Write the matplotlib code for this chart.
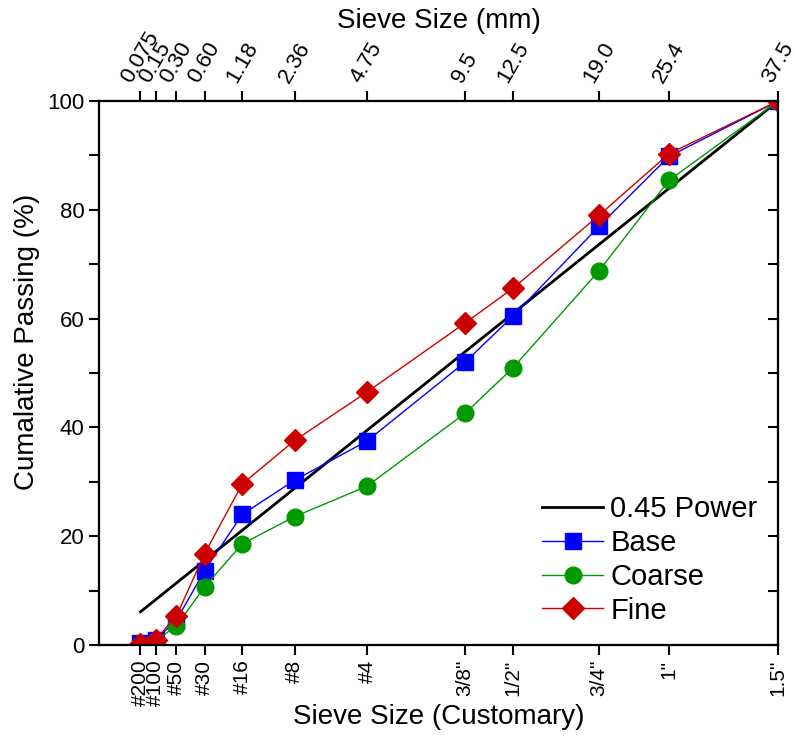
import numpy as np
import matplotlib.pyplot as plt
from matplotlib.ticker import MultipleLocator

plt.rcParams['font.family'] = ['Liberation Sans', 'DejaVu Sans']

# sieve openings (mm) and customary designations
sieve_mm = [0.075, 0.15, 0.30, 0.60, 1.18, 2.36, 4.75, 9.5, 12.5, 19.0, 25.4, 37.5]
sieve_mm_labels = ['0.075', '0.15', '0.30', '0.60', '1.18', '2.36', '4.75',
                   '9.5', '12.5', '19.0', '25.4', '37.5']
sieve_us_labels = ['#200', '#100', '#50', '#30', '#16', '#8', '#4',
                   '3/8"', '1/2"', '3/4"', '1"', '1.5"']

# cumulative passing (%)
base = [0.3, 1.0, 4.5, 13.7, 24.0, 30.3, 37.5, 52.0, 60.5, 77.0, 89.8, 100.0]
coarse = [0.0, 0.8, 3.5, 10.7, 18.6, 23.6, 29.2, 42.6, 51.0, 68.8, 85.4, 100.0]
fine = [0.2, 1.0, 5.3, 16.8, 29.6, 37.6, 46.5, 59.2, 65.6, 79.0, 90.3, 100.0]

n = 0.45
nmps = 37.5


def to_x(d):
    return np.power(d, n)


x = to_x(np.array(sieve_mm))
power_line = 100 * (np.array(sieve_mm) / nmps) ** n

fig = plt.figure(figsize=(7.94, 7.47), dpi=100)
ax = fig.add_axes([0.1247, 0.1365, 0.8553, 0.7283])

ax.plot(x, power_line, color='black', lw=2, label='0.45 Power', zorder=2)
ax.plot(x, base, color='#0000ff', lw=1, marker='s', ms=11, label='Base', zorder=3)
ax.plot(x, coarse, color='#009900', lw=1, marker='o', ms=12, label='Coarse', zorder=3)
ax.plot(x, fine, color='#cc0000', lw=1, marker='D', ms=11, label='Fine', zorder=4)

ax.set_xlim(0, to_x(nmps))
ax.set_ylim(0, 100)
ax.yaxis.set_major_locator(MultipleLocator(20))
ax.yaxis.set_minor_locator(MultipleLocator(10))

ax.set_xticks(x)
ax.set_xticklabels(sieve_us_labels, rotation=90, fontsize=15)
ax.tick_params(axis='x', direction='out', length=7, width=1.5)
ax.tick_params(axis='y', which='both', direction='out', length=7, width=1.5, labelsize=16)
ax.set_xlabel('Sieve Size (Customary)', fontsize=20)
ax.xaxis.set_label_coords(0.5, -0.108)
ax.set_ylabel('Cumalative Passing (%)', fontsize=20)
ax.yaxis.set_label_coords(-0.087, 0.557)

top = ax.twiny()
top.set_xlim(ax.get_xlim())
top.set_xticks(x)
top.set_xticklabels(sieve_mm_labels, rotation=60, fontsize=16)
top.tick_params(axis='x', direction='out', length=7, width=1.5)
top.set_xlabel('Sieve Size (mm)', fontsize=20)
top.xaxis.set_label_coords(0.5, 1.135)

right = ax.twinx()
right.set_ylim(ax.get_ylim())
right.yaxis.set_major_locator(MultipleLocator(20))
right.yaxis.set_minor_locator(MultipleLocator(10))
right.tick_params(axis='y', which='both', direction='in', length=7, width=1.5,
                  labelright=False)

for a in (ax, top, right):
    for s in a.spines.values():
        s.set_linewidth(1.5)

ax.legend(loc='lower right', frameon=False, fontsize=21, handlelength=2.1,
          borderaxespad=0.3, labelspacing=0.2, handletextpad=0.25)

fig.savefig('out.png', dpi=100)
